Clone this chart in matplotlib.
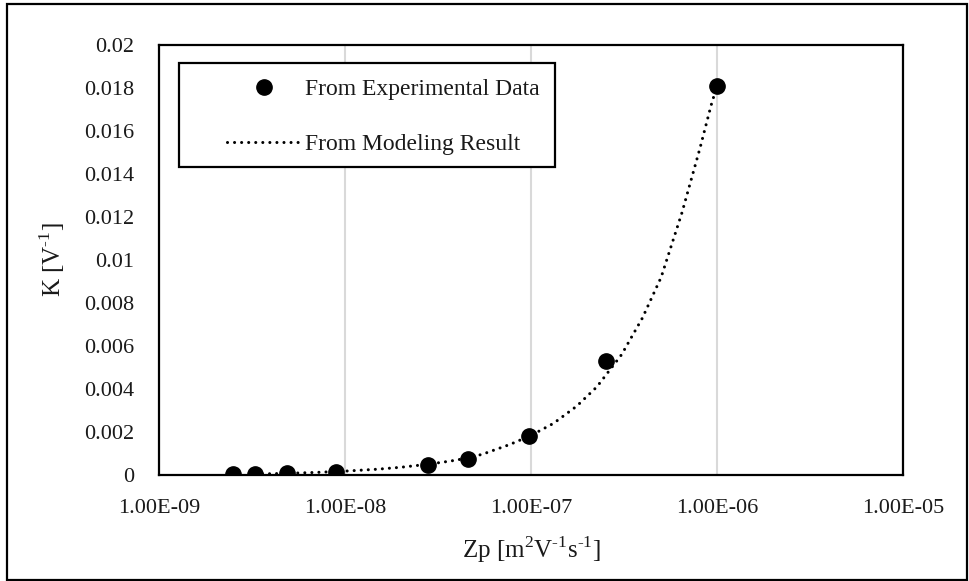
import matplotlib
matplotlib.use("Agg")
import matplotlib.pyplot as plt
from matplotlib.patches import Rectangle

plt.rcParams["font.family"] = ["Liberation Serif", "DejaVu Serif"]
plt.rcParams["mathtext.fontset"] = "custom"
plt.rcParams["mathtext.rm"] = "Liberation Serif"

# Measured ion mobility vs. coefficient K
zp_exp = [2.5e-9, 3.3e-9, 4.9e-9, 8.9e-9, 2.8e-8, 4.6e-8, 9.8e-8, 2.53e-7, 1.0e-6]
k_exp = [0.00003, 0.00003, 0.00008, 0.00015, 0.00045, 0.00076, 0.0018, 0.0053, 0.0181]

# Model curve samples
zp_model = [3.6e-9, 5e-9, 7e-9, 1e-8, 1.5e-8, 2e-8, 2.8e-8, 3.7e-8, 4.64e-8, 5.5e-8,
            7.7e-8, 1e-7, 1.32e-7, 1.76e-7, 2.26e-7, 3.07e-7, 3.97e-7, 5.01e-7,
            6.48e-7, 8.1e-7, 9.3e-7, 1.0e-6]
k_model = [0.00005, 0.00008, 0.00012, 0.00018, 0.00027, 0.00036, 0.0005, 0.00065,
           0.0008, 0.00097, 0.00142, 0.00184, 0.0024, 0.0032, 0.0041, 0.0056,
           0.0073, 0.0092, 0.0122, 0.0152, 0.0172, 0.0181]

x_ticks = [1e-9, 1e-8, 1e-7, 1e-6, 1e-5]
x_tick_labels = ["1.00E-09", "1.00E-08", "1.00E-07", "1.00E-06", "1.00E-05"]
y_ticks = [0, 0.002, 0.004, 0.006, 0.008, 0.01, 0.012, 0.014, 0.016, 0.018, 0.02]
y_tick_labels = ["0", "0.002", "0.004", "0.006", "0.008", "0.01", "0.012",
                 "0.014", "0.016", "0.018", "0.02"]

TEXT = "#1a1a1a"

fig = plt.figure(figsize=(9.69, 5.81), dpi=100)
ax = fig.add_axes([159 / 969, 1 - 475 / 581, 744 / 969, 430 / 581])

ax.set_xscale("log")
ax.set_xlim(1e-9, 1e-5)
ax.set_ylim(0, 0.02)

ax.plot(zp_exp, k_exp, linestyle="none", marker="o", markersize=11,
        color="black", label="From Experimental Data", zorder=3)
ax.plot(zp_model, k_model, color="black", linewidth=2.2,
        linestyle=(0, (0.01, 2.3)), dash_capstyle="round",
        label="From Modeling Result", zorder=2)

ax.set_xticks(x_ticks)
ax.set_xticklabels(x_tick_labels)
ax.xaxis.set_minor_locator(matplotlib.ticker.NullLocator())
ax.set_yticks(y_ticks)
ax.set_yticklabels(y_tick_labels)
ax.tick_params(axis="both", length=0, labelsize=16, colors=TEXT)
ax.tick_params(axis="x", pad=17)
ax.tick_params(axis="y", pad=18)

ax.grid(axis="x", color="#d9d9d9", linewidth=1.5)
ax.grid(axis="y", visible=False)
ax.set_axisbelow(True)
for s in ax.spines.values():
    s.set_color("black")
    s.set_linewidth(1.6)

ax.set_xlabel(r"Zp [m$^{\mathregular{2}}$V$^{\text{-1}}$s$^{\text{-1}}$]",
              fontsize=18, labelpad=12, color=TEXT)
ax.set_ylabel(r"K [V$^{\text{-1}}$]", fontsize=18, labelpad=12, color=TEXT)

# Legend entries without their own frame; the box is drawn separately
leg = ax.legend(loc="upper left", bbox_to_anchor=(0.0914, 0.921),
                frameon=False, fontsize=17, handlelength=3.1,
                handletextpad=0.22, borderpad=0, labelspacing=1.4,
                borderaxespad=0)
for t in leg.get_texts():
    t.set_color(TEXT)
ax.add_patch(Rectangle((0.0269, 0.7163), 0.5054, 0.2419, transform=ax.transAxes,
                       fill=True, facecolor="white", edgecolor="black",
                       linewidth=1.6, zorder=4))
leg.set_zorder(5)

# Outer frame around the figure
fig.patches.append(Rectangle((7 / 969, 1 / 581), 960 / 969, 576 / 581,
                             transform=fig.transFigure, fill=False,
                             edgecolor="black", linewidth=1.6))

fig.savefig("out.png", dpi=100)
